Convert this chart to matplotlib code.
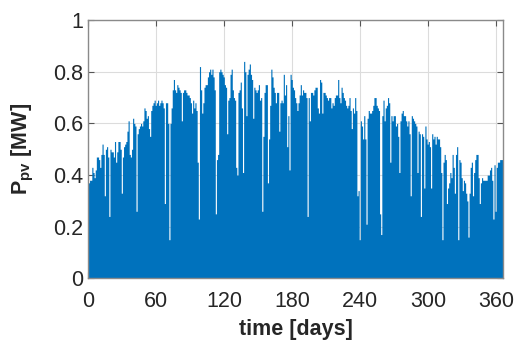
import numpy as np
import matplotlib
matplotlib.use("Agg")
from matplotlib import pyplot as plt

# daily peak PV power [MW] (days 0..365)
peak_q1 = [0.37, 0.38, 0.38, 0.43, 0.41, 0.39, 0.42, 0.47, 0.47, 0.46,
           0.43, 0.48, 0.52, 0.48, 0.32, 0.50, 0.51, 0.47, 0.24, 0.50,
           0.49, 0.49, 0.47, 0.53, 0.45, 0.49, 0.53, 0.53, 0.50, 0.33,
           0.47, 0.51, 0.52, 0.53, 0.57, 0.61, 0.48, 0.47, 0.50, 0.62,
           0.60, 0.59, 0.26, 0.56, 0.58, 0.59, 0.60, 0.59, 0.61, 0.66,
           0.65, 0.62, 0.63, 0.58, 0.55, 0.65, 0.67, 0.68, 0.69, 0.67,
           0.68, 0.69, 0.67]
peak_q2 = [0.68, 0.69, 0.68, 0.66, 0.29, 0.68, 0.68, 0.60, 0.15, 0.60,
           0.66, 0.73, 0.77, 0.73, 0.72, 0.75, 0.74, 0.73, 0.72, 0.61,
           0.72, 0.73, 0.73, 0.72, 0.71, 0.71, 0.70, 0.68, 0.64, 0.69,
           0.66, 0.68, 0.65, 0.45, 0.23, 0.82, 0.73, 0.64, 0.68, 0.74,
           0.75, 0.75, 0.78, 0.80, 0.81, 0.79, 0.81, 0.78, 0.73, 0.25,
           0.46, 0.48, 0.80, 0.81, 0.80, 0.79, 0.78, 0.75, 0.74, 0.56,
           0.69, 0.70]
peak_q3 = [0.79, 0.81, 0.73, 0.70, 0.69, 0.43, 0.40, 0.72, 0.73, 0.76,
           0.66, 0.41, 0.84, 0.80, 0.63, 0.79, 0.81, 0.83, 0.79, 0.77,
           0.62, 0.74, 0.73, 0.72, 0.73, 0.75, 0.69, 0.70, 0.26, 0.55,
           0.72, 0.75, 0.75, 0.37, 0.54, 0.67, 0.81, 0.78, 0.74, 0.72,
           0.68, 0.72, 0.72, 0.57, 0.68, 0.69, 0.68, 0.79, 0.71, 0.75,
           0.51, 0.63, 0.42, 0.79, 0.77, 0.74, 0.73, 0.70, 0.68, 0.65,
           0.68, 0.71]
peak_q4 = [0.75, 0.71, 0.73, 0.72, 0.72, 0.70, 0.24, 0.70, 0.61, 0.72,
           0.72, 0.71, 0.73, 0.74, 0.74, 0.66, 0.64, 0.77, 0.76, 0.64,
           0.72, 0.72, 0.71, 0.70, 0.69, 0.70, 0.70, 0.66, 0.68, 0.67,
           0.70, 0.71, 0.71, 0.77, 0.70, 0.68, 0.74, 0.72, 0.70, 0.69,
           0.67, 0.66, 0.67, 0.70, 0.65, 0.58, 0.66, 0.64, 0.70, 0.65,
           0.32, 0.34, 0.15, 0.61, 0.59, 0.54, 0.63, 0.54, 0.21, 0.62,
           0.65, 0.64]
peak_q5 = [0.64, 0.65, 0.67, 0.70, 0.70, 0.67, 0.66, 0.65, 0.25, 0.17,
           0.63, 0.69, 0.61, 0.66, 0.67, 0.70, 0.68, 0.45, 0.63, 0.61,
           0.63, 0.63, 0.59, 0.60, 0.55, 0.41, 0.61, 0.64, 0.65, 0.63,
           0.63, 0.61, 0.59, 0.61, 0.56, 0.32, 0.63, 0.62, 0.61, 0.60,
           0.59, 0.41, 0.57, 0.56, 0.24, 0.56, 0.55, 0.35, 0.59, 0.54,
           0.52, 0.53, 0.51, 0.35, 0.56, 0.54, 0.55, 0.52, 0.55, 0.54,
           0.54]
peak_q6 = [0.51, 0.41, 0.15, 0.45, 0.48, 0.46, 0.29, 0.35, 0.37, 0.41,
           0.39, 0.48, 0.43, 0.33, 0.48, 0.51, 0.15, 0.46, 0.45, 0.39,
           0.34, 0.38, 0.37, 0.33, 0.30, 0.16, 0.33, 0.43, 0.45, 0.32,
           0.41, 0.46, 0.48, 0.48, 0.39, 0.29, 0.37, 0.39, 0.38, 0.38,
           0.38, 0.38, 0.40, 0.40, 0.42, 0.43, 0.38, 0.23, 0.44, 0.26,
           0.43, 0.45, 0.45, 0.46, 0.46, 0.46]

x_ticks = [0, 60, 120, 180, 240, 300, 360]
y_ticks = [0, 0.2, 0.4, 0.6, 0.8, 1]

peak = np.array(peak_q1 + peak_q2 + peak_q3 + peak_q4 + peak_q5 + peak_q6)
days = np.arange(len(peak) + 1)

plt.rcParams['font.family'] = ['Liberation Sans', 'DejaVu Sans']
plt.rcParams['mathtext.fontset'] = 'custom'
plt.rcParams['mathtext.rm'] = 'Liberation Sans'
plt.rcParams['mathtext.bf'] = 'Liberation Sans:bold'

fig = plt.figure(figsize=(5.17, 3.40), dpi=100)
ax = fig.add_axes([0.171, 0.181, 0.802, 0.760])

ax.fill_between(days, np.append(peak, peak[-1]), step='post',
                color='#0072BD', linewidth=0)

ax.set_xlim(0, 366)
ax.set_ylim(0, 1)
ax.set_xticks(x_ticks)
ax.set_yticks(y_ticks)
ax.set_yticklabels(['0', '0.2', '0.4', '0.6', '0.8', '1'])
ax.grid(True, color='#dcdcdc', linewidth=0.8)
ax.set_axisbelow(True)
for sp in ax.spines.values():
    sp.set_color('#8a8a8a')
    sp.set_linewidth(1.0)
ax.tick_params(direction='in', length=4, width=0.8, color='#555555',
               labelsize=15.5, labelcolor='#262626', top=True, right=True)
ax.tick_params(axis='x', pad=9)
ax.tick_params(axis='y', pad=4)

ax.set_xlabel('time [days]', fontsize=15.5, fontweight='bold', color='#262626', labelpad=5)
ax.set_ylabel(r'$\mathbf{P_{pv}}$ [MW]', fontsize=15.5, fontweight='bold', color='#262626', labelpad=12)

fig.savefig('out.png', dpi=100)
